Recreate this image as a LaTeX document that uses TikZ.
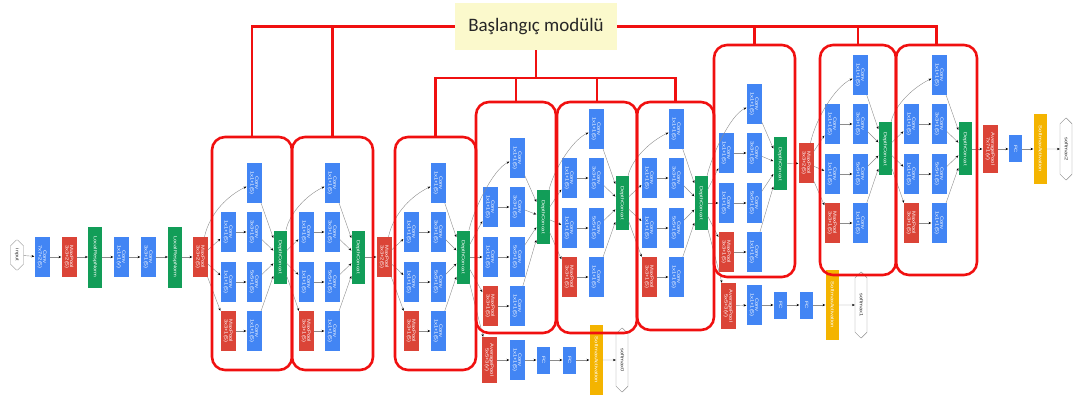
\documentclass[tikz,border=0pt]{standalone}
\usepackage{fontspec}
\setmainfont{Liberation Sans}
\newfontfamily\titlefont{Carlito}
\usetikzlibrary{arrows.meta,shapes.misc}

\definecolor{gblue}{HTML}{4285F4}
\definecolor{gred}{HTML}{DB4437}
\definecolor{ggreen}{HTML}{129D58}
\definecolor{gyel}{HTML}{F4B400}
\definecolor{modred}{HTML}{F01010}
\definecolor{titlebg}{HTML}{FBF9CC}

\renewcommand{\arraystretch}{0.8}
% rotated (top-to-bottom) label, one or more lines separated by \\
\newcommand{\rl}[1]{\rotatebox{-90}{\scalebox{1.25}[1]{\begin{tabular}{@{}c@{}}#1\end{tabular}}}}

% one inception block: #1 prefix, #2 first column x, #3 second column x,
% #4 concat x, #5 centre y of the rows, #6 concat y, #7 source node
\newcommand{\incep}[7]{%
  \node[cv] (#1c2r1) at (#3,{#5-74}) {\rl{Conv\\1x1+1(S)}};
  \node[cv] (#1c1r2) at (#2,{#5-25}) {\rl{Conv\\1x1+1(S)}};
  \node[cv] (#1c2r2) at (#3,{#5-25}) {\rl{Conv\\3x3+1(S)}};
  \node[cv] (#1c1r3) at (#2,{#5+25}) {\rl{Conv\\1x1+1(S)}};
  \node[cv] (#1c2r3) at (#3,{#5+25}) {\rl{Conv\\5x5+1(S)}};
  \node[mp] (#1c1r4) at (#2,{#5+74}) {\rl{MaxPool\\3x3+1(S)}};
  \node[cv] (#1c2r4) at (#3,{#5+74}) {\rl{Conv\\1x1+1(S)}};
  \node[cc] (#1cat) at (#4,#6) {\rl{DepthConcat}};
  \draw[ar] (#7) .. controls +(10,-45) and +(-25,12) .. (#1c2r1);
  \draw[ar] (#7) -- (#1c1r2);
  \draw[ar] (#7) -- (#1c1r3);
  \draw[ar] (#7) -- (#1c1r4);
  \draw[ar] (#1c1r2) -- (#1c2r2);
  \draw[ar] (#1c1r3) -- (#1c2r3);
  \draw[ar] (#1c1r4) -- (#1c2r4);
  \draw[ar] (#1c2r1) -- (#1cat);
  \draw[ar] (#1c2r2) -- (#1cat);
  \draw[ar] (#1c2r3) -- (#1cat);
  \draw[ar] (#1c2r4) -- (#1cat);
}

\begin{document}
\begin{tikzpicture}[x=1pt,y=-1pt,
  box/.style={rectangle, inner sep=0pt, text=white,
    font=\fontsize{4.6}{5.2}\selectfont},
  cv/.style={box, fill=gblue, minimum width=15pt, minimum height=40pt},
  mp/.style={box, fill=gred, minimum width=15pt, minimum height=40pt},
  cc/.style={box, fill=ggreen, minimum width=13pt, minimum height=53pt},
  lrn/.style={box, fill=ggreen, minimum width=14pt, minimum height=61pt},
  fc/.style={box, fill=gblue, minimum width=13pt, minimum height=27pt},
  sa/.style={box, fill=gyel, minimum width=13pt, minimum height=70pt},
  term/.style={chamfered rectangle, chamfered rectangle xsep=3.5pt,
    chamfered rectangle ysep=5pt, draw=black!45, line width=0.4pt,
    fill=white, inner sep=0pt, text=black!80,
    font=\fontsize{4.6}{5.2}\selectfont},
  ar/.style={draw=black!45, line width=0.4pt,
    -{Stealth[length=2.8pt,width=2.3pt,color=black]}},
  mod/.style={draw=modred, line width=2.6pt, rounded corners=13pt,
    inner sep=0pt},
  bus/.style={draw=modred, line width=2.4pt}
]
\useasboundingbox (0,0) rectangle (1073,398);

% stem
\node[term, minimum width=13pt, minimum height=30pt] (inp) at (17,255) {\rl{input}};
\node[cv] (c1) at (42,257) {\rl{Conv\\7x7+2(S)}};
\node[mp] (p1) at (69,257) {\rl{MaxPool\\3x3+2(S)}};
\node[lrn] (n1) at (95,257) {\rl{LocalRespNorm}};
\node[cv] (c2) at (121,257) {\rl{Conv\\1x1+1(V)}};
\node[cv] (c3) at (148,257) {\rl{Conv\\3x3+1(S)}};
\node[lrn] (n2) at (175,257) {\rl{LocalRespNorm}};
\node[mp] (p2) at (200,257) {\rl{MaxPool\\3x3+2(S)}};
\draw[ar] (inp) -- (c1);
\draw[ar] (c1) -- (p1);
\draw[ar] (p1) -- (n1);
\draw[ar] (n1) -- (c2);
\draw[ar] (c2) -- (c3);
\draw[ar] (c3) -- (n2);
\draw[ar] (n2) -- (p2);

% inception blocks
\incep{ia}{228}{254}{280}{257}{257}{p2}
\incep{ib}{306}{332}{358}{257}{257}{iacat}
\node[mp] (p3) at (384,257) {\rl{MaxPool\\3x3+2(S)}};
\draw[ar] (ibcat) -- (p3);
\incep{ic}{411}{438}{463}{257}{257}{p3}
\incep{id}{490}{517}{543}{232}{217}{iccat}
\incep{ie}{569}{596}{622}{203}{203}{idcat}
\incep{ig}{649}{676}{701}{203}{203}{iecat}
\incep{ih}{726}{754}{780}{178}{164}{igcat}
\node[mp] (p4) at (806,163) {\rl{MaxPool\\3x3+2(S)}};
\draw[ar] (ihcat) -- (p4);
\incep{ii}{832}{860}{885}{149}{149}{p4}
\incep{ij}{911}{939}{965}{149}{149}{iicat}

% main classifier
\node[mp, minimum height=48pt] (ap) at (990,149) {\rl{AveragePool\\7x7+1(V)}};
\node[fc] (fc) at (1015,149) {\rl{FC}};
\node[sa] (sa) at (1040,149) {\rl{SoftmaxActivation}};
\node[term, minimum width=12pt, minimum height=62pt] (out2) at (1066,149) {\rl{softmax2}};
\draw[ar] (ijcat) -- (ap);
\draw[ar] (ap) -- (fc);
\draw[ar] (fc) -- (sa);
\draw[ar] (sa) -- (out2);

% first auxiliary classifier
\node[mp, minimum height=46pt] (a1p) at (489,360) {\rl{AveragePool\\5x5+3(V)}};
\node[cv] (a1c) at (517,360) {\rl{Conv\\1x1+1(S)}};
\node[fc] (a1f) at (543,360) {\rl{FC}};
\node[fc] (a1g) at (569,360) {\rl{FC}};
\node[sa] (a1s) at (596,360) {\rl{SoftmaxActivation}};
\node[term, minimum width=12pt, minimum height=64pt] (out0) at (622,360) {\rl{softmax0}};
\draw[ar] (iccat) -- (a1p);
\draw[ar] (a1p) -- (a1c);
\draw[ar] (a1c) -- (a1f);
\draw[ar] (a1f) -- (a1g);
\draw[ar] (a1g) -- (a1s);
\draw[ar] (a1s) -- (out0);

% second auxiliary classifier
\node[mp, minimum height=46pt] (a2p) at (728,306) {\rl{AveragePool\\5x5+3(V)}};
\node[cv] (a2c) at (754,305) {\rl{Conv\\1x1+1(S)}};
\node[fc] (a2f) at (780,305) {\rl{FC}};
\node[fc] (a2g) at (806,305) {\rl{FC}};
\node[sa] (a2s) at (832,305) {\rl{SoftmaxActivation}};
\node[term, minimum width=12pt, minimum height=66pt] (out1) at (861,305) {\rl{softmax1}};
\draw[ar] (igcat) -- (a2p);
\draw[ar] (a2p) -- (a2c);
\draw[ar] (a2c) -- (a2f);
\draw[ar] (a2f) -- (a2g);
\draw[ar] (a2g) -- (a2s);
\draw[ar] (a2s) -- (out1);

% module frames
\node[mod, minimum width=80pt, minimum height=233pt] (m3a) at (252,253.5) {};
\node[mod, minimum width=81pt, minimum height=233pt] (m3b) at (332.5,253.5) {};
\node[mod, minimum width=81pt, minimum height=233pt] (m4a) at (435.5,253.5) {};
\node[mod, minimum width=80pt, minimum height=231pt] (m4b) at (516,217.5) {};
\node[mod, minimum width=80pt, minimum height=231pt] (m4c) at (597,217.5) {};
\node[mod, minimum width=77pt, minimum height=228pt] (m4d) at (675.5,216) {};
\node[mod, minimum width=81pt, minimum height=232pt] (m4e) at (754.5,161) {};
\node[mod, minimum width=76pt, minimum height=230pt] (m5a) at (858,160) {};
\node[mod, minimum width=81pt, minimum height=230pt] (m5b) at (936.5,160) {};

% title and its bus lines
\node[fill=titlebg, minimum width=162pt, minimum height=47pt, inner sep=0pt,
  font=\titlefont\fontsize{19}{22}\selectfont, text=black!85] (title) at (536,26.5) {Başlangıç modülü};
\coordinate (j) at (536,78);
\draw[bus] (title.west) -| (m3a.north);
\draw[bus] (m3b.north) -- (m3b.north |- title.west);
\draw[bus] (title.east) -| (m5b.north);
\draw[bus] (m4e.north) -- (m4e.north |- title.east);
\draw[bus] (m5a.north) -- (m5a.north |- title.east);
\draw[bus] (title.south) -- (j);
\draw[bus] (m4a.north) |- (j) -| (m4d.north);
\draw[bus] (m4b.north) -- (m4b.north |- j);
\draw[bus] (m4c.north) -- (m4c.north |- j);
\end{tikzpicture}
\end{document}
